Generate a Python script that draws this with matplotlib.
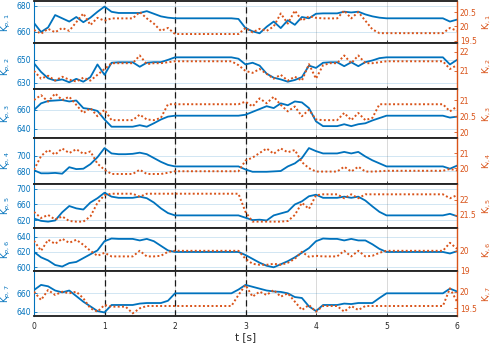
import numpy as np
import matplotlib
matplotlib.use("Agg")
import matplotlib.pyplot as plt
from matplotlib.ticker import FuncFormatter

# time grid (s), one sample every 0.1 s
t = np.linspace(0, 6, 61)

# Kp (left axis, blue) and Ki (right axis, orange) for each joint
kp1 = [666.9, 660.0, 663.5, 673.0, 670.5, 668.0, 671.5, 667.5, 671.0, 675.5, 679.5,
       675.5, 674.6, 674.6, 674.6, 674.6, 676.0, 674.0, 672.0, 671.0, 670.5,
       670.5, 670.5, 670.5, 670.5, 670.5, 670.5, 670.5, 670.5, 670.0, 663.0,
       660.5, 659.0, 664.0, 668.0, 663.0, 669.0, 665.5, 671.5, 670.5, 674.0,
       674.3, 674.3, 674.3, 675.6, 675.0, 675.6, 673.5, 672.0, 671.0, 670.5,
       670.5, 670.5, 670.5, 670.5, 670.5, 670.5, 670.5, 670.5, 668.0, 669.5]
ki1 = [19.88, 19.75, 19.92, 19.80, 19.95, 19.85, 20.15, 20.45, 20.05, 20.30, 20.20,
       20.28, 20.28, 20.28, 20.28, 20.50, 20.28, 20.10, 19.85, 19.95, 19.74,
       19.74, 19.74, 19.74, 19.74, 19.74, 19.74, 19.74, 19.74, 19.74, 19.95,
       19.80, 19.92, 19.85, 20.00, 20.45, 20.10, 20.55, 20.20, 20.35, 20.30,
       20.28, 20.28, 20.28, 20.55, 20.28, 20.50, 20.20, 19.90, 19.77, 19.77,
       19.77, 19.77, 19.77, 19.77, 19.77, 19.77, 19.77, 19.77, 19.95, 19.85]

kp2 = [647.0, 639.5, 634.0, 632.0, 633.0, 630.5, 633.5, 631.0, 635.0, 646.0, 637.0,
       647.5, 647.9, 647.9, 647.9, 644.0, 647.5, 648.0, 648.0, 650.0, 652.2,
       652.2, 652.2, 652.2, 652.2, 652.2, 652.2, 652.2, 652.2, 651.0, 646.0,
       647.5, 645.0, 638.0, 634.5, 633.0, 631.0, 632.5, 635.0, 645.0, 643.0,
       647.5, 647.9, 647.9, 644.5, 647.9, 644.5, 648.0, 649.5, 651.5, 652.2,
       652.2, 652.2, 652.2, 652.2, 652.2, 652.2, 652.2, 652.2, 646.0, 650.0]
ki2 = [21.00, 20.60, 20.75, 20.50, 20.70, 20.55, 20.45, 20.65, 20.50, 20.80, 21.10,
       21.40, 21.40, 21.40, 21.40, 21.80, 21.35, 21.40, 21.40, 21.45, 21.50,
       21.50, 21.50, 21.50, 21.50, 21.50, 21.50, 21.50, 21.50, 21.30, 21.00,
       20.90, 21.10, 20.85, 20.60, 20.80, 20.50, 20.70, 20.50, 21.35, 20.60,
       21.30, 21.40, 21.40, 21.80, 21.40, 21.80, 21.40, 21.40, 21.45, 21.50,
       21.50, 21.50, 21.50, 21.50, 21.50, 21.50, 21.50, 21.50, 21.10, 21.30]

kp3 = [660.0, 667.0, 669.5, 670.0, 670.5, 669.0, 670.0, 662.0, 661.0, 659.0, 650.0,
       642.4, 642.4, 642.4, 642.4, 644.0, 642.4, 646.0, 650.0, 653.0, 654.0,
       654.0, 654.0, 654.0, 654.0, 654.0, 654.0, 654.0, 654.0, 654.0, 655.0,
       658.0, 661.0, 664.0, 662.0, 667.0, 665.0, 669.0, 668.0, 662.0, 648.0,
       643.0, 643.0, 643.0, 645.0, 643.0, 645.0, 646.0, 649.0, 651.5, 654.0,
       654.0, 654.0, 654.0, 654.0, 654.0, 654.0, 654.0, 654.0, 652.0, 653.0]
ki3 = [21.00, 21.15, 20.95, 21.20, 21.00, 21.10, 20.85, 20.60, 20.75, 20.50, 20.70,
       20.38, 20.38, 20.38, 20.38, 20.55, 20.40, 20.38, 20.45, 20.87, 20.87,
       20.87, 20.87, 20.87, 20.87, 20.87, 20.87, 20.87, 20.87, 20.87, 20.95,
       20.80, 21.05, 20.90, 21.10, 20.85, 20.65, 20.80, 20.50, 20.70, 20.40,
       20.38, 20.38, 20.38, 20.60, 20.38, 20.60, 20.38, 20.45, 20.87, 20.87,
       20.87, 20.87, 20.87, 20.87, 20.87, 20.87, 20.87, 20.87, 20.65, 20.80]

kp4 = [681.0, 677.0, 677.0, 677.5, 676.5, 685.0, 682.5, 683.0, 689.0, 698.0, 710.0,
       703.0, 702.0, 702.0, 702.5, 704.0, 702.0, 697.0, 692.0, 688.0, 686.0,
       686.0, 686.0, 686.0, 686.0, 686.0, 686.0, 686.0, 686.0, 686.0, 682.0,
       679.0, 679.0, 679.0, 679.5, 680.0, 686.0, 690.0, 697.0, 710.0, 706.0,
       703.0, 703.0, 703.0, 705.0, 703.0, 705.0, 699.0, 694.0, 690.0, 686.0,
       686.0, 686.0, 686.0, 686.0, 686.0, 686.0, 686.0, 686.0, 683.0, 687.0]
ki4 = [19.90, 20.80, 21.20, 20.90, 21.30, 21.00, 21.25, 20.95, 21.10, 20.30, 19.90,
       19.62, 19.62, 19.62, 19.62, 19.90, 19.62, 19.62, 19.62, 19.70, 19.80,
       19.80, 19.80, 19.80, 19.80, 19.80, 19.80, 19.80, 19.80, 19.80, 20.50,
       20.70, 21.00, 21.30, 20.95, 21.30, 21.05, 21.20, 20.40, 20.00, 19.78,
       19.78, 19.78, 19.78, 20.10, 19.78, 20.10, 19.78, 19.78, 19.80, 19.83,
       19.83, 19.83, 19.83, 19.83, 19.83, 19.83, 19.83, 19.83, 19.95, 19.85]

kp5 = [624.0, 618.0, 616.0, 619.0, 640.0, 656.0, 650.0, 647.0, 665.0, 676.0, 690.0,
       680.0, 677.0, 677.0, 677.0, 680.0, 676.0, 665.0, 650.0, 638.0, 632.0,
       632.0, 632.0, 632.0, 632.0, 632.0, 632.0, 632.0, 632.0, 632.0, 626.0,
       620.0, 621.0, 619.0, 632.0, 637.0, 642.0, 660.0, 668.0, 681.0, 685.0,
       677.0, 677.0, 677.0, 680.0, 677.0, 680.0, 670.0, 655.0, 641.0, 632.0,
       632.0, 632.0, 632.0, 632.0, 632.0, 632.0, 632.0, 632.0, 636.0, 630.0]
ki5 = [21.60, 21.40, 21.50, 21.35, 21.45, 21.30, 21.28, 21.28, 21.45, 21.90, 22.15,
       22.20, 22.20, 22.20, 22.20, 22.10, 22.20, 22.20, 22.20, 22.20, 22.20,
       22.20, 22.20, 22.20, 22.20, 22.20, 22.20, 22.20, 22.20, 22.20, 21.60,
       21.28, 21.28, 21.28, 21.28, 21.28, 21.30, 21.50, 21.90, 21.70, 22.15,
       22.18, 22.18, 22.18, 22.05, 22.18, 22.05, 22.18, 22.18, 22.18, 22.18,
       22.18, 22.18, 22.18, 22.18, 22.18, 22.18, 22.18, 22.18, 22.05, 22.15]

kp6 = [620.0, 613.0, 609.0, 603.0, 601.0, 605.5, 607.0, 612.0, 617.0, 622.0, 634.0,
       637.5, 637.0, 637.0, 637.0, 635.0, 637.0, 634.0, 628.0, 622.0, 620.0,
       620.0, 620.0, 620.0, 620.0, 620.0, 620.0, 620.0, 620.0, 620.0, 616.0,
       611.0, 606.0, 602.0, 600.0, 604.0, 608.0, 613.0, 619.0, 625.0, 634.0,
       637.5, 637.0, 637.0, 635.0, 637.0, 635.0, 635.0, 630.0, 624.0, 620.0,
       620.0, 620.0, 620.0, 620.0, 620.0, 620.0, 620.0, 620.0, 618.0, 621.0]
ki6 = [20.50, 20.00, 20.55, 20.35, 20.60, 20.40, 20.55, 20.30, 20.00, 19.75, 19.90,
       19.72, 19.72, 19.72, 19.72, 20.00, 19.72, 19.72, 19.75, 19.95, 20.00,
       20.00, 20.00, 20.00, 20.00, 20.00, 20.00, 20.00, 20.00, 20.00, 19.60,
       19.35, 19.30, 19.30, 19.35, 19.30, 19.40, 19.60, 19.95, 19.70, 19.75,
       19.72, 19.72, 19.72, 20.00, 19.72, 20.00, 19.72, 19.75, 19.90, 20.00,
       20.00, 20.00, 20.00, 20.00, 20.00, 20.00, 20.00, 20.00, 20.40, 20.10]

kp7 = [663.5, 669.0, 667.5, 663.0, 661.0, 663.0, 657.0, 651.0, 646.0, 641.0, 639.5,
       647.5, 647.5, 647.5, 647.5, 649.0, 649.6, 649.6, 649.6, 652.0, 660.0,
       660.0, 660.0, 660.0, 660.0, 660.0, 660.0, 660.0, 660.0, 664.0, 669.0,
       667.0, 665.0, 663.0, 662.0, 661.5, 660.0, 656.0, 655.0, 646.0, 641.0,
       647.5, 647.5, 647.5, 649.0, 648.5, 649.6, 649.6, 649.6, 655.0, 660.0,
       660.0, 660.0, 660.0, 660.0, 660.0, 660.0, 660.0, 660.0, 665.0, 662.0]
ki7 = [20.00, 19.75, 20.05, 19.90, 20.00, 19.95, 20.00, 19.80, 19.50, 19.40, 19.60,
       19.55, 19.55, 19.55, 19.35, 19.50, 19.57, 19.57, 19.57, 19.57, 19.57,
       19.57, 19.57, 19.57, 19.57, 19.57, 19.57, 19.57, 19.57, 19.90, 20.20,
       19.85, 20.00, 19.90, 20.05, 19.85, 19.95, 19.70, 19.45, 19.60, 19.40,
       19.57, 19.57, 19.57, 19.40, 19.57, 19.45, 19.57, 19.57, 19.57, 19.57,
       19.57, 19.57, 19.57, 19.57, 19.57, 19.57, 19.57, 19.57, 20.10, 19.70]

kp_all = [kp1, kp2, kp3, kp4, kp5, kp6, kp7]
ki_all = [ki1, ki2, ki3, ki4, ki5, ki6, ki7]

# axis limits and ticks
kp_lims = [(651.3, 683.8), (624.4, 664.4), (630.5, 681.8), (663.0, 723.2),
           (599.7, 712.4), (595.2, 651.2), (635.7, 683.9)]
ki_lims = [(19.42, 20.88), (20.05, 22.43), (19.83, 21.33), (18.96, 21.99),
           (21.07, 22.52), (18.99, 21.14), (19.27, 20.62)]
kp_ticks = [[660, 680], [630, 650], [640, 660], [680, 700],
            [620, 660, 700], [600, 620, 640], [640, 660]]
ki_ticks = [[19.5, 20, 20.5], [21, 22], [20, 20.5, 21], [20, 21],
            [21.5, 22], [19, 20], [19.5, 20]]
phase_times = [1, 2, 3]

blue = "#0072BD"
orange = "#D95319"

fig = plt.figure(figsize=(4.92, 3.46), dpi=100)
gs = fig.add_gridspec(7, 1, left=34 / 492, right=457 / 492, top=1 - 1 / 346,
                      bottom=1 - 316 / 346, hspace=0,
                      height_ratios=[42.3, 46, 48.7, 46, 44, 43, 45])

fmt = FuncFormatter(lambda v, p: "%g" % v)

for i in range(7):
    ax = fig.add_subplot(gs[i])
    ax.plot(t, kp_all[i], color=blue, lw=1.3, zorder=3)
    ax.set_xlim(0, 6)
    ax.set_ylim(*kp_lims[i])
    ax.set_yticks(kp_ticks[i])
    ax.yaxis.set_major_formatter(fmt)
    ax.set_xticks(range(7))
    ax.grid(axis="x", color="#d9d9d9", lw=0.7)
    ax.grid(axis="y", color=blue, alpha=0.18, lw=0.7)
    ax.set_axisbelow(True)
    for pt in phase_times:
        ax.axvline(pt, color="#1a1a1a", ls=(0, (5, 3)), lw=0.9, zorder=2)
    ax.tick_params(axis="y", colors=blue, labelsize=5.5, direction="in",
                   length=2.5, width=0.6, pad=2)
    ax.tick_params(axis="x", colors="#262626", labelsize=5.5, direction="in",
                   length=2, width=0.6, pad=4, labelbottom=(i == 6))
    ax.set_ylabel("K$_{p,%d}$" % (i + 1), color=blue, fontsize=6.5)
    ax.yaxis.set_label_coords(-0.05, 0.5)
    ax.spines["left"].set_color(blue)
    ax.spines["right"].set_visible(False)
    for s in ("top", "bottom"):
        ax.spines[s].set_color("#262626")
        ax.spines[s].set_linewidth(1.1)

    ax2 = ax.twinx()
    ax2.plot(t, ki_all[i], color=orange, lw=1.4, ls=(0, (1, 1.2)))
    ax2.set_ylim(*ki_lims[i])
    ax2.set_yticks(ki_ticks[i])
    ax2.yaxis.set_major_formatter(fmt)
    ax2.tick_params(axis="y", colors=orange, labelsize=5.5, direction="in",
                    length=2.5, width=0.6, pad=2)
    ax2.set_ylabel("K$_{i,%d}$" % (i + 1), color=orange, fontsize=6.5, rotation=90)
    ax2.yaxis.set_label_coords(1.055, 0.5)
    ax2.spines["right"].set_color(orange)
    ax2.spines["right"].set_linewidth(1.0)
    ax2.spines["left"].set_visible(False)
    for s in ("top", "bottom"):
        ax2.spines[s].set_color("#262626")
        ax2.spines[s].set_linewidth(1.1)

    if i == 6:
        ax.set_xlabel("t [s]", fontsize=7.5, color="#262626", labelpad=1)

fig.savefig("out.png", dpi=100)
